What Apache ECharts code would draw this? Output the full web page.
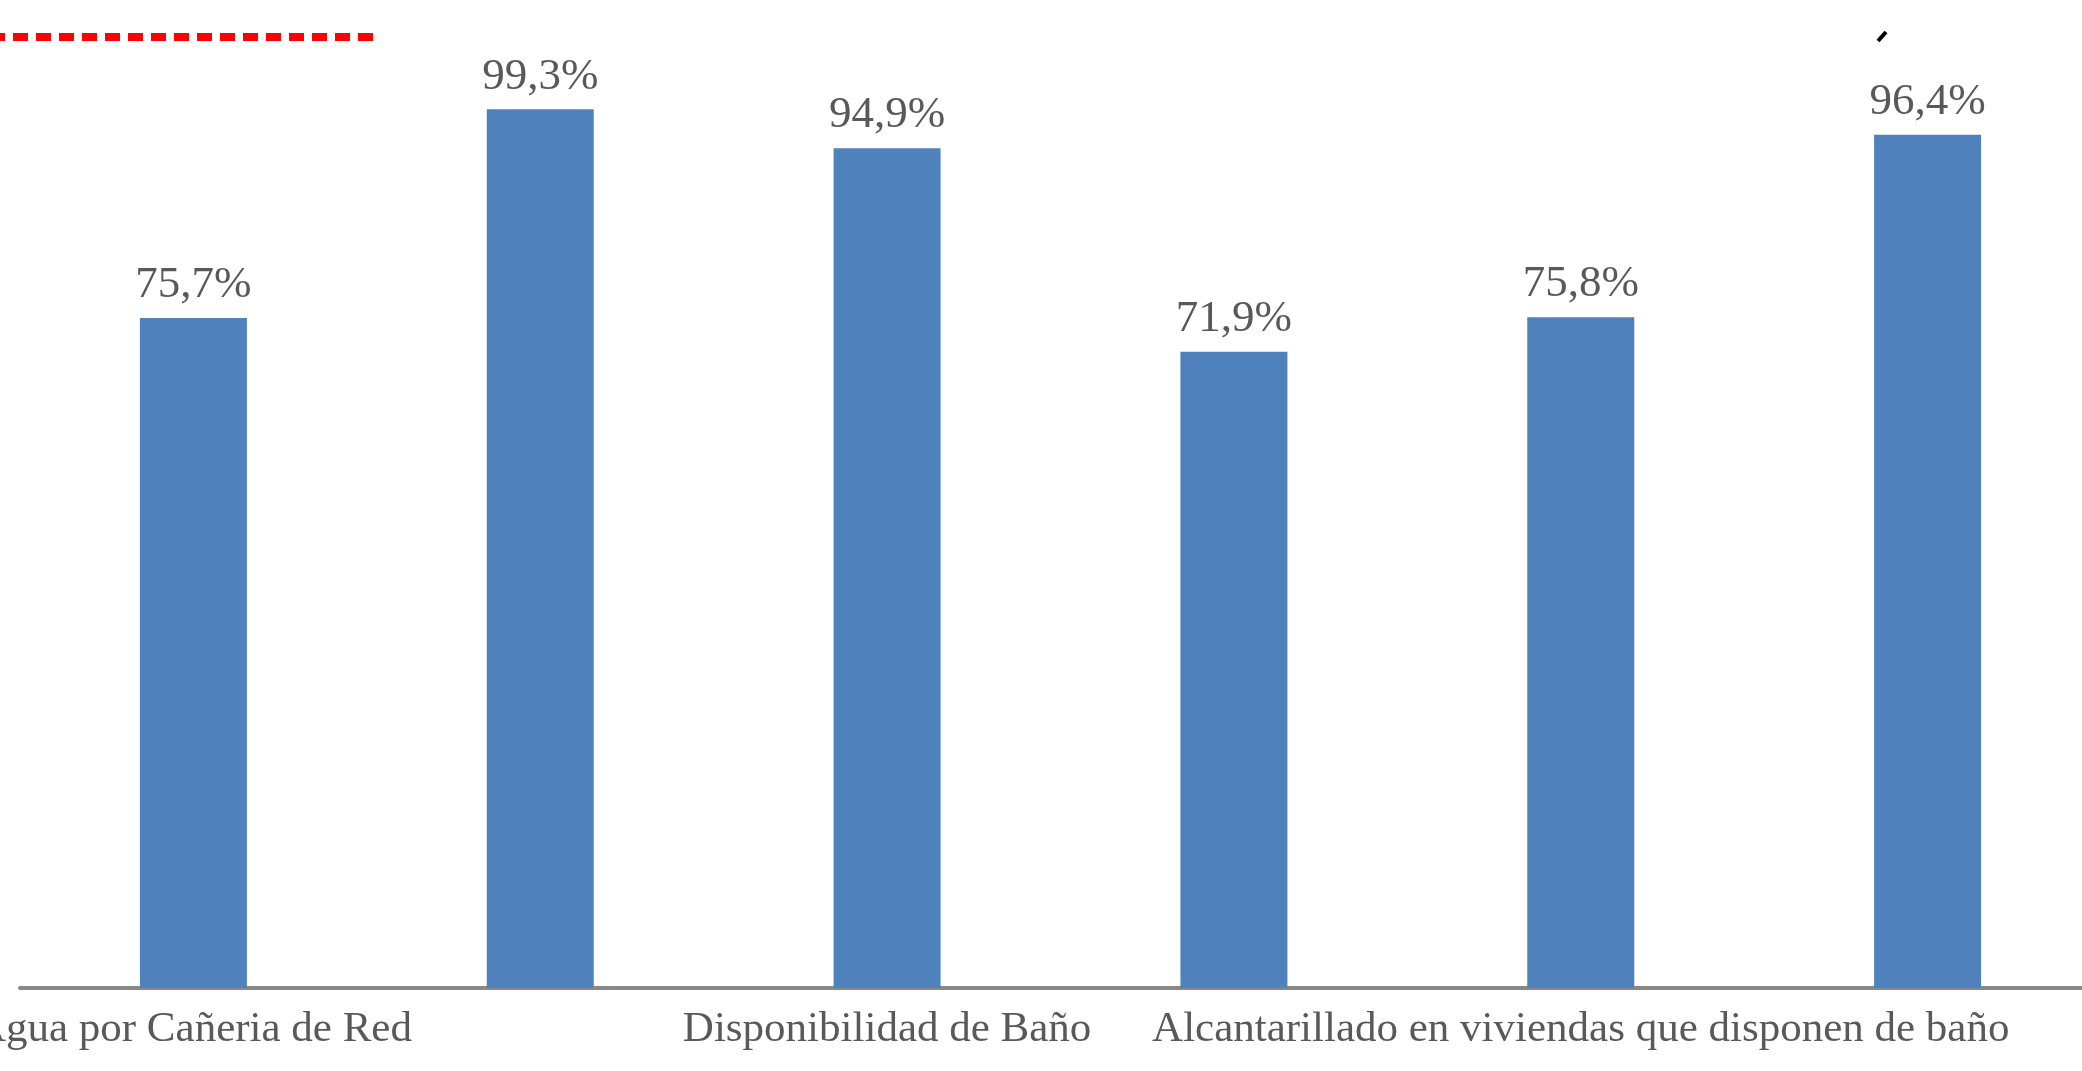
<!DOCTYPE html>
<html>
<head>
<meta charset="utf-8">
<script src="https://cdn.jsdelivr.net/npm/echarts@6/dist/echarts.min.js"></script>
<style>
html,body{margin:0;padding:0;background:#fff;}
#chart{width:2082px;height:1071px;}
</style>
</head>
<body>
<div id="chart"></div>
<script>
const categories = ["Agua por Cañeria de Red", "", "Disponibilidad de Baño", " ", "Alcantarillado en viviendas que disponen de baño", "  "];
const values = [75.7, 99.3, 94.9, 71.9, 75.8, 96.4];

const chart = echarts.init(document.getElementById('chart'));
chart.setOption({
  backgroundColor: '#ffffff',
  animation: false,
  grid: { left: 20, top: 103, bottom: 83, width: 2081, containLabel: false, outerBoundsMode: 'none' },
  xAxis: {
    type: 'category',
    data: categories,
    axisLine: { show: true, lineStyle: { color: '#888888', width: 4 } },
    axisTick: { show: false },
    axisLabel: {
      interval: 0,
      margin: 20,
      color: '#595959',
      fontFamily: 'Liberation Serif',
      fontSize: 43
    }
  },
  yAxis: {
    type: 'value',
    min: 0,
    max: 100,
    show: false,
    splitLine: { show: false }
  },
  series: [{
    type: 'bar',
    data: values,
    barWidth: 107,
    itemStyle: { color: '#4F81BD' },
    label: {
      show: true,
      position: 'top',
      distance: 10,
      color: '#595959',
      fontFamily: 'Liberation Serif',
      fontSize: 45,
      formatter: p => p.value.toFixed(1).replace('.', ',') + '%'
    }
  }],
  graphic: [
    {
      type: 'line',
      shape: { x1: 0, y1: 37, x2: 378, y2: 37 },
      style: { stroke: '#FF0000', lineWidth: 8, lineDash: [15, 8], lineDashOffset: 10 }
    },
    {
      type: 'line',
      shape: { x1: 1878, y1: 41, x2: 1886, y2: 32 },
      style: { stroke: '#000000', lineWidth: 4 }
    }
  ]
});
</script>
</body>
</html>
